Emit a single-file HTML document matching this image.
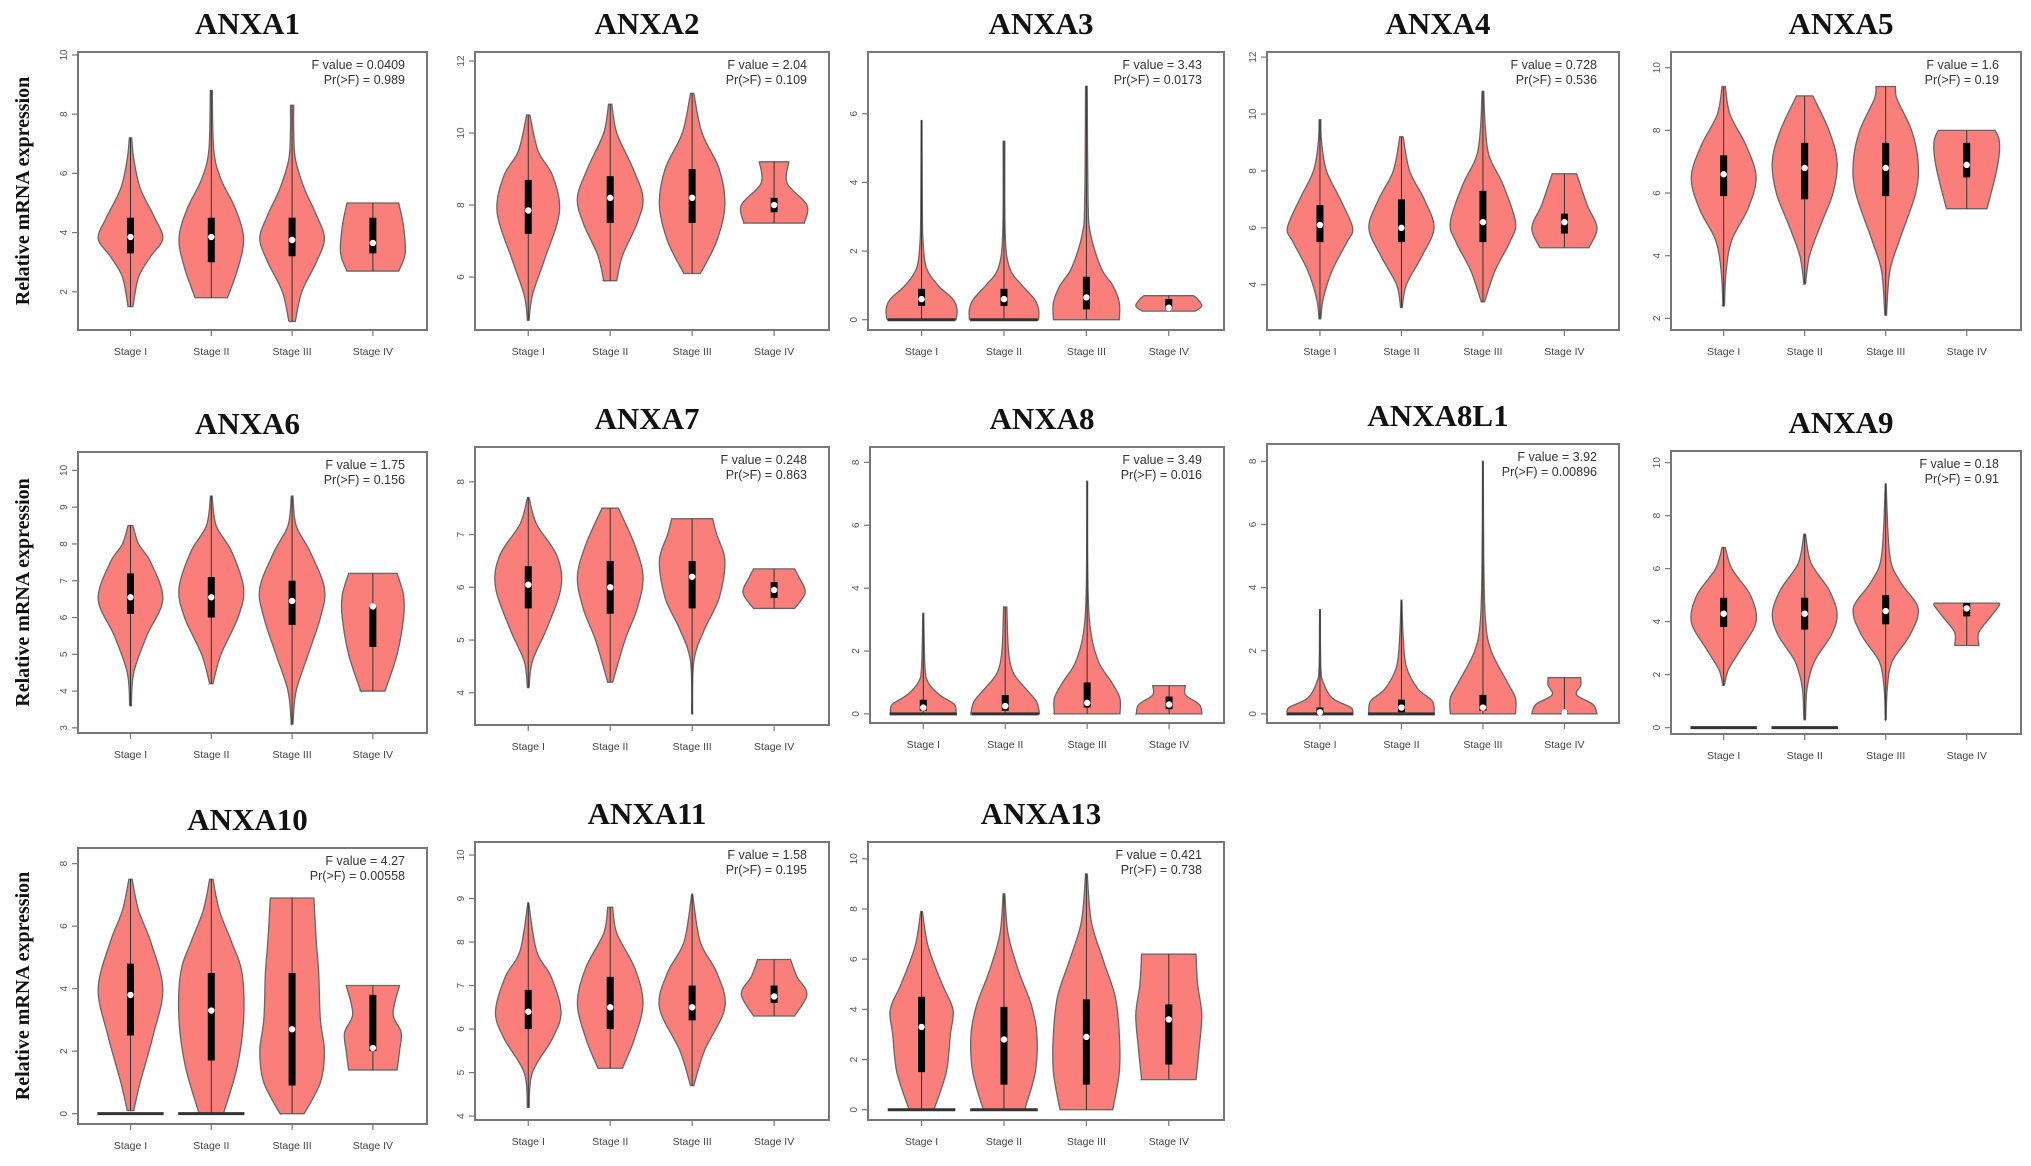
<!DOCTYPE html>
<html><head><meta charset="utf-8"><style>
html,body{margin:0;padding:0;background:#fff}
svg{display:block}
</style></head><body>
<svg id="fig" width="2031" height="1166" viewBox="0 0 2031 1166" xmlns="http://www.w3.org/2000/svg"></svg>
<script>
// ---- data ----
const genes = ["ANXA1","ANXA2","ANXA3","ANXA4","ANXA5","ANXA6","ANXA7","ANXA8","ANXA8L1","ANXA9","ANXA10","ANXA11","ANXA13"];
const stages = ["Stage I","Stage II","Stage III","Stage IV"];
const fValues = ["0.0409","2.04","3.43","0.728","1.6","1.75","0.248","3.49","3.92","0.18","4.27","1.58","0.421"];
const pValues = ["0.989","0.109","0.0173","0.536","0.19","0.156","0.863","0.016","0.00896","0.91","0.00558","0.195","0.738"];
const yDomains = [[0.71,10.1],[4.53,12.25],[-0.3,7.8],[2.41,12.18],[1.63,10.5],[2.86,10.5],[3.39,8.66],[-0.29,8.49],[-0.29,8.55],[-0.24,10.44],[-0.33,8.5],[3.91,10.3],[-0.41,10.67]];
const yTicks = [[2,4,6,8,10],[6,8,10,12],[0,2,4,6],[4,6,8,10,12],[2,4,6,8,10],[3,4,5,6,7,8,9,10],[4,5,6,7,8],[0,2,4,6,8],[0,2,4,6,8],[0,2,4,6,8,10],[0,2,4,6,8],[4,5,6,7,8,9,10],[0,2,4,6,8,10]];
// per gene, per stage: [min, q1, median, q3, max]
const stats = [
 [[1.5,3.3,3.85,4.5,7.2],[1.8,3.0,3.85,4.5,8.8],[1.0,3.2,3.75,4.5,8.3],[2.7,3.3,3.65,4.5,5.0]],
 [[4.8,7.2,7.85,8.7,10.5],[5.9,7.5,8.2,8.8,10.8],[6.1,7.5,8.2,9.0,11.1],[7.5,7.8,8.0,8.2,9.2]],
 [[0,0.4,0.6,0.9,5.8],[0,0.4,0.6,0.9,5.2],[0,0.3,0.65,1.25,6.8],[0.25,0.3,0.35,0.6,0.7]],
 [[2.8,5.5,6.1,6.8,9.8],[3.2,5.5,6.0,7.0,9.2],[3.4,5.5,6.2,7.3,10.8],[5.3,5.8,6.2,6.5,7.9]],
 [[2.4,5.9,6.6,7.2,9.4],[3.1,5.8,6.8,7.6,9.1],[2.1,5.9,6.8,7.6,9.4],[5.5,6.5,6.9,7.6,8.0]],
 [[3.6,6.1,6.55,7.2,8.5],[4.2,6.0,6.55,7.1,9.3],[3.1,5.8,6.45,7.0,9.3],[4.0,5.2,6.3,6.3,7.2]],
 [[4.1,5.6,6.05,6.4,7.7],[4.2,5.5,6.0,6.5,7.5],[3.6,5.6,6.2,6.5,7.3],[5.6,5.8,5.95,6.1,6.35]],
 [[0,0.1,0.2,0.45,3.2],[0,0.1,0.25,0.6,3.4],[0,0.2,0.35,1.0,7.4],[0,0.15,0.3,0.55,0.9]],
 [[0,0,0.05,0.2,3.3],[0,0.05,0.2,0.45,3.6],[0,0.1,0.2,0.6,8.0],[0,0,0.05,0.1,1.15]],
 [[1.6,3.8,4.3,4.9,6.8],[0.3,3.7,4.3,4.9,7.3],[0.3,3.9,4.4,5.0,9.2],[3.1,4.2,4.5,4.7,4.7]],
 [[0.1,2.5,3.8,4.8,7.5],[0,1.7,3.3,4.5,7.5],[0,0.9,2.7,4.5,6.9],[1.4,2.0,2.1,3.8,4.1]],
 [[4.2,6.0,6.4,6.9,8.9],[5.1,6.0,6.5,7.2,8.8],[4.7,6.2,6.5,7.0,9.1],[6.3,6.6,6.75,7.0,7.6]],
 [[0,1.5,3.3,4.5,7.9],[0,1.0,2.8,4.1,8.6],[0,1.0,2.9,4.4,9.4],[1.2,1.8,3.6,4.2,6.2]]
];
// density profiles: [value, half-width in stage units]
const profiles = [
 [[[1.5,.03],[2.5,.1],[3.2,.25],[3.8,.4],[4.5,.3],[5.5,.12],[6.5,.04],[7.2,.015]],[[1.8,.2],[2.8,.33],[3.8,.4],[4.8,.3],[5.8,.12],[6.8,.03],[8.8,.012]],[[1.0,.04],[2,.12],[3,.3],[3.8,.4],[4.6,.3],[5.5,.15],[6.5,.04],[7.5,.02],[8.3,.02]],[[2.7,.32],[3.3,.4],[4.2,.38],[5.0,.32]]],
 [[[4.8,.01],[5.5,.05],[6.5,.2],[7.8,.38],[8.8,.3],[9.5,.12],[10.5,.02]],[[5.9,.08],[6.6,.15],[7.5,.33],[8.2,.4],[9,.28],[10,.08],[10.8,.02]],[[6.1,.1],[7,.3],[8,.4],[9,.33],[10,.12],[11.1,.02]],[[7.5,.37],[8.0,.4],[8.6,.16],[9.2,.18]]],
 [[[0,.42],[0.3,.43],[0.6,.38],[1.0,.2],[1.5,.06],[2.2,.02],[3,.01],[5.8,.005]],[[0,.42],[0.3,.42],[0.6,.37],[1.0,.22],[1.5,.07],[2.5,.015],[5.2,.01]],[[0,.4],[0.5,.4],[1.0,.32],[1.5,.18],[2.5,.05],[3.5,.02],[6.8,.01]],[[0.25,.32],[0.4,.4],[0.6,.35],[0.7,.3]]],
 [[[2.8,.01],[3.5,.04],[4.5,.15],[5.5,.33],[6,.4],[7,.25],[8,.08],[9,.02],[9.8,.01]],[[3.2,.01],[4,.06],[5,.25],[6,.4],[7,.28],[8,.1],[9.2,.02]],[[3.4,.02],[4.5,.15],[5.5,.33],[6.2,.4],[7.5,.25],[8.5,.08],[9.5,.03],[10.8,.01]],[[5.3,.3],[6,.4],[6.8,.28],[7.9,.15]]],
 [[[2.4,.01],[3.5,.03],[4.5,.1],[5.5,.3],[6.5,.4],[7.5,.28],[8.5,.08],[9.4,.02]],[[3.1,.01],[4,.06],[5,.2],[6,.35],[7,.4],[8,.3],[9.1,.1]],[[2.1,.01],[3.5,.05],[4.5,.17],[6,.37],[7,.4],[8,.32],[9,.14],[9.4,.12]],[[5.5,.25],[6.5,.35],[7.2,.4],[7.7,.4],[8.0,.35]]],
 [[[3.6,.01],[4.5,.04],[5.5,.2],[6.5,.4],[7.5,.25],[8,.1],[8.5,.03]],[[4.2,.02],[5,.12],[6,.33],[6.8,.4],[7.8,.25],[8.5,.06],[9.3,.01]],[[3.1,.01],[4,.05],[5,.2],[6,.35],[6.8,.4],[7.8,.22],[8.5,.05],[9.3,.01]],[[4,.15],[5,.3],[6,.38],[6.6,.38],[7.2,.3]]],
 [[[4.1,.01],[4.6,.05],[5.2,.22],[6,.4],[6.6,.35],[7.2,.1],[7.7,.01]],[[4.2,.03],[5,.18],[5.6,.33],[6.2,.4],[6.8,.3],[7.5,.1]],[[3.6,.005],[4.6,.02],[5.2,.15],[5.8,.33],[6.5,.4],[7,.3],[7.3,.25]],[[5.6,.25],[5.9,.38],[6.2,.3],[6.35,.25]]],
 [[[0,.4],[0.3,.38],[0.6,.2],[1,.06],[1.5,.02],[3.2,.005]],[[0,.42],[0.4,.38],[0.8,.25],[1.3,.1],[2,.04],[3.4,.02]],[[0,.4],[0.5,.4],[1,.3],[1.6,.15],[2.5,.05],[4,.01],[7.4,.005]],[[0,.4],[0.3,.37],[0.6,.2],[0.9,.2]]],
 [[[0,.4],[0.2,.38],[0.5,.15],[1,.04],[1.5,.01],[3.3,.005]],[[0,.4],[0.4,.38],[0.8,.2],[1.5,.06],[2.5,.02],[3.6,.005]],[[0,.4],[0.5,.4],[1,.3],[2,.1],[3,.03],[5,.01],[8,.005]],[[0,.4],[0.3,.35],[0.6,.15],[0.9,.2],[1.15,.2]]],
 [[[1.6,.01],[2.2,.06],[3,.22],[4,.4],[5,.33],[6,.1],[6.8,.02]],[[0.3,.01],[1.5,.03],[2.5,.12],[3.5,.33],[4.3,.4],[5.2,.3],[6.2,.08],[7.3,.01]],[[0.3,.005],[1.5,.02],[2.5,.08],[3.5,.3],[4.5,.4],[5.5,.18],[6.5,.05],[9.2,.005]],[[3.1,.15],[3.6,.15],[4.2,.3],[4.6,.4],[4.7,.4]]],
 [[[0.1,.04],[1,.12],[2.5,.28],[4,.4],[5.5,.25],[6.5,.1],[7.5,.02]],[[0,.15],[1.5,.32],[3,.4],[4.5,.38],[5.5,.25],[6.5,.1],[7.5,.02]],[[0,.15],[1,.35],[2,.4],[3,.35],[4.5,.33],[5.5,.3],[6.9,.27]],[[1.4,.3],[2,.33],[2.6,.35],[3.2,.25],[4.1,.33]]],
 [[[4.2,.01],[5,.05],[5.8,.3],[6.4,.4],[7.2,.28],[7.8,.1],[8.9,.005]],[[5.1,.15],[5.8,.3],[6.6,.4],[7.4,.3],[8.2,.08],[8.8,.03]],[[4.7,.02],[5.5,.15],[6.5,.4],[7.3,.3],[8,.1],[9.1,.005]],[[6.3,.25],[6.8,.4],[7.2,.28],[7.6,.2]]],
 [[[0,.15],[1.5,.3],[3,.35],[4,.38],[5,.25],[6.5,.08],[7.9,.01]],[[0,.25],[1.5,.38],[3,.4],[4.2,.33],[5.5,.18],[7,.05],[8.6,.01]],[[0,.32],[1.5,.4],[3,.4],[4.5,.35],[6,.2],[7.5,.06],[9.4,.01]],[[1.2,.33],[2.5,.37],[3.8,.4],[5,.35],[6.2,.33]]]
];
// stages with a dense cluster of zero values (dark bar at 0)
const zeroBars = [[],[],[0,1],[],[],[],[],[0,1],[0,1],[0,1],[0,1],[],[0,1]];

// ---- layout (pixel boxes) ----
const boxes = [
 [78,52,349,278],[475,52,354,278],[868,52,356,278],[1267,52,352,278],[1671,52,350,278],
 [78,452,349,281],[475,447,354,278],[870,447,354,276],[1267,444,352,279],[1671,451,350,283],
 [78,848,349,276],[475,842,354,278],[868,842,356,278]
];
const NS='http://www.w3.org/2000/svg';
const svg=document.getElementById('fig');
function mk(tag,attrs,parent){const e=document.createElementNS(NS,tag);for(const k in attrs)e.setAttribute(k,attrs[k]);(parent||svg).appendChild(e);return e;}

function smoothPath(pts){ // catmull-rom
  let d='';
  for(let i=0;i<pts.length-1;i++){
    const p0=pts[Math.max(0,i-1)],p1=pts[i],p2=pts[i+1],p3=pts[Math.min(pts.length-1,i+2)];
    const c1=[p1[0]+(p2[0]-p0[0])/6,p1[1]+(p2[1]-p0[1])/6];
    const c2=[p2[0]-(p3[0]-p1[0])/6,p2[1]-(p3[1]-p1[1])/6];
    d+=` C${c1[0].toFixed(1)},${c1[1].toFixed(1)} ${c2[0].toFixed(1)},${c2[1].toFixed(1)} ${p2[0].toFixed(1)},${p2[1].toFixed(1)}`;
  }
  return d;
}

genes.forEach((g,gi)=>{
  const [bx,by,bw,bh]=boxes[gi];
  const [d0,d1]=yDomains[gi];
  const yS=v=>by+bh-(v-d0)/(d1-d0)*bh;
  const unit=bw/4.32;
  const xS=i=>bx+unit*(i+0.65);
  const grp=mk('g',{});
  
  

  const t=mk('text',{x:bx+bw/2-5,y:by-18,'text-anchor':'middle','font-family':'Liberation Serif, serif','font-weight':'bold','font-size':'31',fill:'#111'},grp);
  t.textContent=g;
  
  

  const frame=mk('rect',{x:bx,y:by,width:bw,height:bh,fill:'none',stroke:'#777','stroke-width':2},grp);
  
  

  yTicks[gi].forEach(v=>{
    const y=yS(v);
    mk('line',{x1:bx-6,x2:bx,y1:y,y2:y,stroke:'#777','stroke-width':1.2},grp);
    const tl=mk('text',{x:0,y:0,transform:`translate(${bx-11},${y}) rotate(-90)`,'text-anchor':'middle','font-family':'Liberation Sans, sans-serif','font-size':'10',fill:'#555'},grp);
    tl.textContent=v;
    
    
  });

  stages.forEach((s,si)=>{
    const cx=xS(si);
    mk('line',{x1:cx,x2:cx,y1:by+bh,y2:by+bh+6,stroke:'#777','stroke-width':1.2},grp);
    const xl=mk('text',{x:cx,y:by+bh+25,'text-anchor':'middle','font-family':'Liberation Sans, sans-serif','font-size':'10.5',fill:'#444'},grp);
    xl.textContent=s;
    
    

    const prof=profiles[gi][si];
    const right=prof.map(p=>[cx+p[1]*unit,yS(p[0])]);
    const left=prof.slice().reverse().map(p=>[cx-p[1]*unit,yS(p[0])]);
    let d=`M${cx-prof[0][1]*unit},${yS(prof[0][0])} L${right[0][0]},${right[0][1]}`+smoothPath(right)+` L${left[0][0]},${left[0][1]}`+smoothPath(left)+' Z';
    const vp=mk('path',{d:d,fill:'#fa7f7a',stroke:'#666','stroke-width':1.3},grp);
    
    

    if(zeroBars[gi].indexOf(si)>=0){
      const zb=mk('line',{x1:cx-0.41*unit,x2:cx+0.41*unit,y1:yS(0),y2:yS(0),stroke:'#333','stroke-width':3},grp);
      
      
    }
    const st=stats[gi][si];
    mk('line',{x1:cx,x2:cx,y1:yS(st[0]),y2:yS(st[4]),stroke:'#333','stroke-width':1},grp);
    const iqr=mk('line',{x1:cx,x2:cx,y1:yS(st[1]),y2:yS(st[3]),stroke:'#000','stroke-width':7},grp);
    
    
    const md=mk('circle',{cx:cx,cy:yS(st[2]),r:3.2,fill:'#fff'},grp);
    
    
  });

  const f1=mk('text',{x:bx+bw-22,y:by+17,'text-anchor':'end','font-family':'Liberation Sans, sans-serif','font-size':'12.5',fill:'#333'},grp);
  f1.textContent='F value = '+fValues[gi];
  
  
  const f2=mk('text',{x:bx+bw-22,y:by+32,'text-anchor':'end','font-family':'Liberation Sans, sans-serif','font-size':'12.5',fill:'#333'},grp);
  f2.textContent='Pr(>F) = '+pValues[gi];
  
  

  if(gi%5===0){
    const yl=mk('text',{x:0,y:0,transform:`translate(29,${by+bh/2}) rotate(-90)`,'text-anchor':'middle','font-family':'Liberation Serif, serif','font-weight':'bold','font-size':'20',fill:'#111'},grp);
    yl.textContent='Relative mRNA expression';
    
    
  }
});
</script>
</body></html>
